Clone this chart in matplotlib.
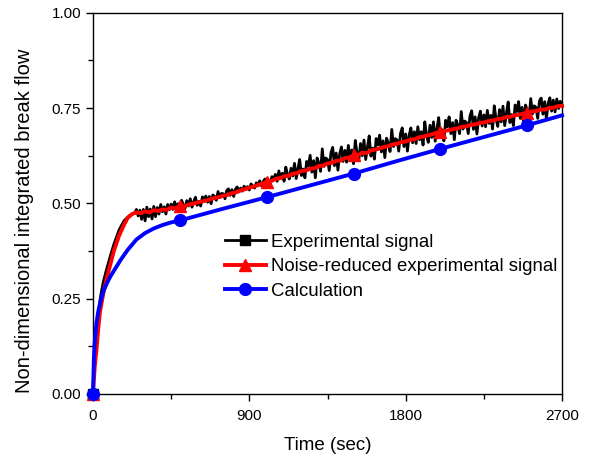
import numpy as np
import matplotlib
matplotlib.use("Agg")
import matplotlib.pyplot as plt
from matplotlib.ticker import MultipleLocator, FormatStrFormatter

plt.rcParams["font.family"] = ["Liberation Sans", "DejaVu Sans"]

# experimental signal (black, noisy)
t_exp_early = [0, 5, 10, 20, 30, 40, 50, 60, 80, 100, 120, 150, 180, 210, 240]
y_exp_early = [0, 0.05, 0.10, 0.165, 0.21, 0.245, 0.272, 0.295, 0.33, 0.362,
               0.392, 0.43, 0.455, 0.468, 0.474]
t_exp_late = np.arange(250, 2701, 10)
y_exp_late = [
    0.484, 0.467, 0.482, 0.458, 0.484, 0.454, 0.490, 0.465, 0.485, 0.459,
    0.492, 0.465, 0.489, 0.472, 0.497, 0.478, 0.491, 0.472, 0.497, 0.483,
    0.498, 0.484, 0.504, 0.488, 0.499, 0.483, 0.508, 0.496, 0.487, 0.507,
    0.493, 0.512, 0.490, 0.505, 0.516, 0.495, 0.505, 0.493, 0.517, 0.510,
    0.519, 0.503, 0.518, 0.499, 0.522, 0.518, 0.508, 0.531, 0.515, 0.526,
    0.525, 0.512, 0.534, 0.538, 0.521, 0.536, 0.518, 0.537, 0.543, 0.530,
    0.540, 0.532, 0.545, 0.537, 0.544, 0.535, 0.551, 0.545, 0.540, 0.554,
    0.546, 0.559, 0.546, 0.557, 0.564, 0.552, 0.560, 0.552, 0.570, 0.565,
    0.576, 0.558, 0.585, 0.565, 0.579, 0.558, 0.595, 0.575, 0.564, 0.592,
    0.572, 0.605, 0.565, 0.592, 0.615, 0.573, 0.590, 0.567, 0.610, 0.598,
    0.626, 0.582, 0.612, 0.567, 0.619, 0.606, 0.584, 0.643, 0.597, 0.619,
    0.615, 0.586, 0.633, 0.647, 0.599, 0.632, 0.587, 0.630, 0.648, 0.610,
    0.639, 0.608, 0.652, 0.618, 0.640, 0.604, 0.665, 0.631, 0.612, 0.657,
    0.625, 0.666, 0.615, 0.648, 0.677, 0.624, 0.645, 0.616, 0.670, 0.653,
    0.679, 0.635, 0.664, 0.620, 0.671, 0.658, 0.636, 0.694, 0.649, 0.670,
    0.666, 0.637, 0.683, 0.698, 0.649, 0.682, 0.637, 0.679, 0.698, 0.659,
    0.688, 0.657, 0.701, 0.667, 0.688, 0.653, 0.714, 0.679, 0.660, 0.705,
    0.673, 0.714, 0.663, 0.696, 0.725, 0.672, 0.693, 0.664, 0.718, 0.701,
    0.727, 0.683, 0.712, 0.667, 0.718, 0.705, 0.683, 0.741, 0.695, 0.716,
    0.712, 0.683, 0.729, 0.743, 0.694, 0.727, 0.682, 0.724, 0.742, 0.703,
    0.732, 0.701, 0.744, 0.710, 0.731, 0.695, 0.756, 0.721, 0.702, 0.746,
    0.714, 0.755, 0.704, 0.737, 0.766, 0.712, 0.733, 0.704, 0.758, 0.741,
    0.767, 0.723, 0.752, 0.707, 0.758, 0.745, 0.723, 0.775, 0.735, 0.756,
    0.752, 0.723, 0.769, 0.776, 0.734, 0.767, 0.721, 0.763, 0.777, 0.742,
    0.771, 0.740, 0.774, 0.749, 0.768, 0.757,
]
t_exp = np.concatenate([t_exp_early, t_exp_late])
y_exp = np.array(y_exp_early + y_exp_late)

# noise-reduced signal (red)
t_red_early = [0, 10, 20, 30, 40, 60, 80, 100, 120, 150, 180, 200, 225]
y_red_early = [0, 0.07, 0.115, 0.17, 0.215, 0.265, 0.305, 0.34, 0.375, 0.415,
               0.445, 0.462, 0.472]
t_red_late = np.arange(250, 2701, 25)
y_red_late = [
    0.476, 0.474, 0.479, 0.476, 0.482, 0.480, 0.484, 0.483,
    0.489, 0.487, 0.494, 0.492, 0.497, 0.499, 0.502, 0.505,
    0.507, 0.511, 0.514, 0.516, 0.520, 0.522, 0.527, 0.529,
    0.534, 0.537, 0.541, 0.544, 0.548, 0.552, 0.556, 0.558,
    0.564, 0.566, 0.571, 0.572, 0.578, 0.579, 0.585, 0.586,
    0.591, 0.592, 0.598, 0.599, 0.605, 0.606, 0.612, 0.612,
    0.619, 0.620, 0.626, 0.626, 0.633, 0.632, 0.639, 0.641,
    0.644, 0.648, 0.650, 0.655, 0.656, 0.661, 0.662, 0.667,
    0.668, 0.673, 0.675, 0.678, 0.681, 0.685, 0.686, 0.690,
    0.692, 0.695, 0.697, 0.701, 0.702, 0.706, 0.707, 0.711,
    0.712, 0.716, 0.717, 0.721, 0.722, 0.726, 0.727, 0.731,
    0.732, 0.736, 0.737, 0.741, 0.742, 0.746, 0.746, 0.750,
    0.751, 0.755, 0.756,
]
t_red = np.concatenate([t_red_early, t_red_late])
y_red = np.array(y_red_early + y_red_late)

# calculation (blue)
t_calc = [0, 5, 10, 20, 30, 40, 60, 80, 100, 130, 160, 200, 250, 300, 350,
          400, 450, 500, 750, 1000, 1250, 1500, 1750, 2000, 2250, 2500, 2700]
y_calc = [0, 0.09, 0.135, 0.185, 0.215, 0.236, 0.27, 0.29, 0.308, 0.33,
          0.352, 0.378, 0.405, 0.422, 0.434, 0.443, 0.45, 0.455, 0.486,
          0.516, 0.547, 0.578, 0.611, 0.643, 0.674, 0.705, 0.731]

marker_times = [0, 500, 1000, 1500, 2000, 2500]

red_marks = [int(np.argmin(np.abs(t_red - m))) for m in marker_times]
calc_marks = [t_calc.index(m) for m in marker_times]

fig = plt.figure(figsize=(5.96, 4.59), dpi=100)
ax = fig.add_axes([0.156, 0.142, 0.787, 0.830])

ax.plot(t_exp, y_exp, color="black", lw=2.0, marker="s", ms=7,
        markevery=[0], label="Experimental signal", zorder=2, clip_on=False)
ax.plot(t_red, y_red, color="red", lw=2.8, marker="^", ms=8.5,
        markevery=red_marks, label="Noise-reduced experimental signal",
        zorder=3, clip_on=False)
ax.plot(t_calc, y_calc, color="blue", lw=2.8, marker="o", ms=8.5,
        markevery=calc_marks, label="Calculation", zorder=4, clip_on=False)

ax.set_xlim(0, 2700)
ax.set_ylim(0, 1.0)
ax.xaxis.set_major_locator(MultipleLocator(900))
ax.xaxis.set_minor_locator(MultipleLocator(450))
ax.yaxis.set_major_locator(MultipleLocator(0.25))
ax.yaxis.set_minor_locator(MultipleLocator(0.125))
ax.yaxis.set_major_formatter(FormatStrFormatter("%.2f"))
ax.tick_params(which="major", length=5, width=1, labelsize=11)
ax.tick_params(which="minor", length=3.5, width=1)
ax.tick_params(axis="x", which="major", pad=6)
for s in ax.spines.values():
    s.set_linewidth(1)

ax.set_xlabel("Time (sec)", fontsize=13.5, labelpad=10)
ax.set_ylabel("Non-dimensional integrated break flow", fontsize=14.5)
ax.yaxis.set_label_coords(-0.125, 0.455)

ax.legend(loc="upper left", bbox_to_anchor=(0.265, 0.44), frameon=False,
          fontsize=13.4, handlelength=2.2, handletextpad=0.3, labelspacing=0.4,
          borderaxespad=0)

fig.savefig("out.png", dpi=100)
